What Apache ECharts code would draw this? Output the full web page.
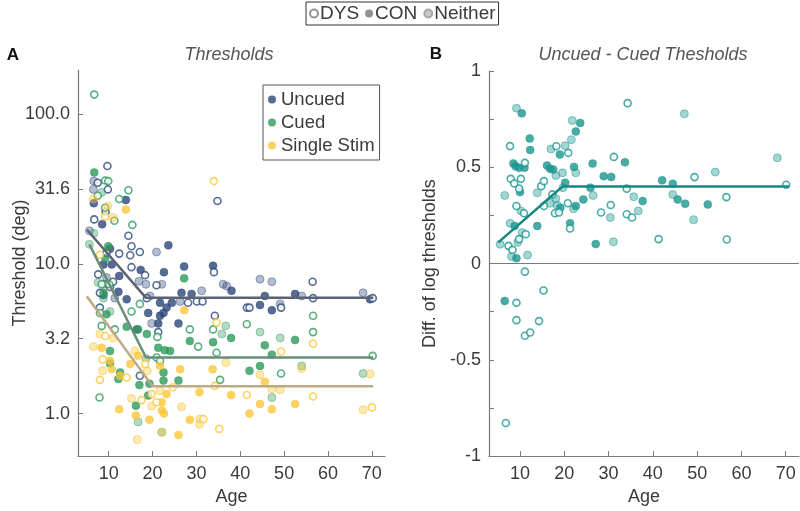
<!DOCTYPE html>
<html><head><meta charset="utf-8">
<script src="https://cdn.jsdelivr.net/npm/echarts@6/dist/echarts.min.js"></script>
<style>html,body{margin:0;padding:0;background:#fff}#c{width:800px;height:511px}</style>
</head><body><div id="c"></div>
<script>
// ---------- tick values ----------
const ageTicks = [10, 20, 30, 40, 50, 60, 70];
const thrTicks = [1, 3.1623, 10, 31.623, 100];
const diffTicks = [-1, -0.75, -0.5, -0.25, 0, 0.25, 0.5, 0.75, 1];
const diffLabels = [-1, -0.5, 0, 0.5, 1];

// ---------- Panel A: thresholds (deg) vs age ----------
const uncuedDYS = [[9.7,45],[7.5,34.8],[9.8,31.4],[6.7,19.8],[9.3,22.3],[14.5,15.4],[15.2,13.1],[12.4,11.7],[14.9,11.4],[17.1,12],[34.8,26.3],[9.5,11.8],[15.2,9.5],[18.3,8.4],[7.6,8.5],[34,8.8],[20.9,7.2],[10.3,7],[18.7,5.9],[28.1,5.5],[30.1,5.6],[31.4,5.6],[21.3,3.5],[34.2,4.5],[8,5.1],[17.1,1.79],[56.5,7.6],[56.6,5.9],[41.5,5.1],[42.1,5.1],[49.3,5.1],[70.2,5.9],[8,6.4],[11,7.6]];
const uncuedCON = [[6.6,25.4],[13.9,26.7],[8.5,18.4],[10.3,12.6],[23.6,13.3],[8.8,9.9],[10.7,9.9],[17.3,9.1],[12.4,8.3],[27.2,9.6],[33.8,9.7],[22.6,8.8],[12.2,6.5],[26.6,6.4],[28.9,6.3],[14.1,5.8],[24.4,5.5],[21.7,5.5],[23.2,5.1],[22.5,4.7],[21.7,4.5],[19,4.7],[21.3,4.0],[25.9,4.0],[16.4,3.65],[8.8,6.2],[38,6.6],[45.6,6.1],[52.5,6.3],[69.6,5.8],[44.5,5.3],[47.2,4.9]];
const uncuedNeither = [[6.6,35.7],[6.5,31.4],[5.6,16.6],[20.9,12],[9.5,8.1],[16.9,7.65],[18.5,7.3],[22.1,7.3],[8.8,7.3],[31.2,6.6],[19.4,6.1],[26.3,5.6],[19.8,4.0],[11.4,5.9],[36.1,7.3],[36.9,7.1],[44.5,7.9],[47.2,7.6],[54,6.1],[68,6.4],[49.1,5.4]];

const cuedDYS = [[6.7,135],[9.2,36],[9.9,35.7],[7.5,28.5],[14.5,31],[12.4,27.1],[9.2,23.7],[11.3,19.4],[15.4,18.2],[8.4,7.3],[10.1,7.3],[8,4.7],[15.2,4.8],[17.1,5.4],[11.4,3.65],[8.4,3.85],[21.1,3.25],[28.5,3.65],[30.4,2.8],[33.8,3.65],[34.6,2.55],[20.9,2.37],[21.7,2.25],[7.9,1.28],[41.5,3.95],[56.6,4.5],[56.6,3.5],[49.3,1.85],[35.4,1.68],[70.2,2.43]];
const cuedCON = [[6.7,40.7],[9.9,13.1],[9.2,10.9],[27.2,8],[8.8,6.4],[9.5,4.6],[16.7,3.65],[14.1,3.8],[18.7,3.4],[28.5,3.05],[33.8,3.0],[21.3,2.75],[22.8,2.65],[24,2.62],[10.3,2.62],[10.3,2.16],[12.6,1.88],[12.2,1.7],[22.5,1.88],[22.5,1.66],[25.9,1.66],[17,1.55],[19.3,1.58],[19,1.32],[16.2,1.13],[37.9,3.2],[45.6,2.86],[52.5,3.1],[47.2,2.47],[42.1,1.93],[44.5,2.08]];
const cuedNeither = [[8.4,30],[6.6,16],[5.6,13.5],[7.6,7.5],[8.8,5.9],[10.3,4.8],[35.8,3.4],[18.5,2.33],[22.1,0.75],[16.7,0.88],[36.7,3.85],[44.5,3.5],[49.1,3.2],[54,2.08],[68,1.85],[47.2,1.28]];

const singleDYS = [[34,35.7],[9.2,20.7],[8,11.5],[34.6,4.05],[9.2,3.3],[8.6,2.3],[8,1.68],[14.1,1.74],[18.3,2.14],[24.6,1.5],[34.2,1.53],[19.8,1.35],[17.5,1.23],[20.9,1.19],[31.6,0.92],[35.2,0.79],[49.3,2.6],[56.6,2.93],[41.5,1.33],[56.6,1.3],[70,1.1]];
const singleCON = [[13.9,23.1],[8.4,2.75],[10.3,2.25],[10.7,1.98],[12.6,1.79],[14.9,2.14],[16.7,2.43],[21.7,2.08],[26.3,1.98],[33.7,1.98],[30.7,1.39],[23.2,1.35],[22.1,1.19],[22.1,1.05],[22.6,1.0],[12.4,1.07],[16.2,0.97],[19.3,0.91],[28.5,0.91],[25.9,0.72],[27.2,4.9],[45.6,1.63],[37.9,1.33],[44.5,1.16],[47.2,1.07],[52.5,1.16],[42.1,1.0]];
const singleNeither = [[6.5,27.1],[9.8,24.3],[11,20.4],[6.5,2.8],[8,3.4],[11,3.2],[8.6,1.93],[16,2.62],[18.8,1.93],[21.7,1.42],[15.2,1.26],[19.8,1.12],[26.6,1.11],[30.8,0.92],[30.7,0.85],[16.5,0.67],[22.1,0.75],[36.7,2.19],[44.5,1.82],[54,2.0],[69.6,1.84],[47.2,1.46],[49.1,1.44],[68,1.06]];

// piecewise fits (age, threshold)
const uncuedFit = [[5.05,16.9],[18.5,5.93],[70.3,5.93]];
const cuedFit = [[5.6,13.5],[18.5,2.37],[70.3,2.37]];
const singleFit = [[5.0,6.08],[20.0,1.52],[70.3,1.52]];

// ---------- Panel B: uncued - cued log thresholds ----------
const diffDYS = [[7.75,0.61],[11.1,0.523],[7.9,0.44],[8.7,0.416],[10.2,0.44],[9.8,0.389],[9.2,0.299],[10.9,0.261],[11.3,0.152],[9.8,0.127],[7.4,0.092],[8.3,0.071],[14.8,0.402],[15.4,0.428],[18.2,0.609],[20.9,0.575],[17.3,0.359],[15.4,0.299],[17.9,0.261],[18.8,0.265],[20.8,0.313],[21.3,0.182],[28.3,0.265],[30.5,0.304],[31.2,0.554],[34.3,0.833],[34.1,0.389],[34.1,0.256],[35.3,0.239],[49.4,0.449],[56.6,0.345],[41.3,0.127],[56.7,0.125],[70.1,0.409],[11.1,-0.042],[15.3,-0.14],[9.2,-0.204],[9.2,-0.294],[14.3,-0.299],[11.1,-0.375],[12.3,-0.358],[6.8,-0.828]];
const diffCON = [[10.4,0.78],[12.2,0.65],[12.3,0.59],[8.5,0.52],[9.0,0.505],[9.8,0.497],[11,0.497],[10,0.371],[8.8,0.195],[9.2,0.028],[13.9,0.195],[16.1,0.509],[16.8,0.492],[17.5,0.488],[19,0.566],[23.6,0.73],[22.6,0.686],[22.2,0.502],[20.2,0.42],[19.1,0.29],[22.6,0.299],[24.3,0.333],[21.3,0.209],[26.4,0.519],[25.9,0.394],[27.1,0.101],[28.9,0.454],[30.6,0.45],[33.7,0.526],[37.7,0.325],[42.1,0.432],[44.5,0.414],[45.6,0.333],[47.3,0.311],[52.4,0.307],[6.55,-0.194]];
const diffNeither = [[9.2,0.807],[6.55,0.354],[10.2,0.273],[7.75,0.209],[10.5,0.161],[5.5,0.1],[8.1,0.037],[11.7,0.044],[9.5,0.11],[13.9,0.368],[17,0.595],[20.2,0.612],[18.1,0.457],[19.6,0.471],[21.8,0.743],[21.6,0.643],[22.6,0.471],[19.7,0.394],[18.1,0.337],[16.8,0.313],[18.4,0.302],[22.1,0.285],[26.5,0.354],[30.4,0.239],[31.1,0.113],[35.7,0.347],[36.7,0.273],[47.1,0.778],[54.1,0.475],[44.5,0.359],[49.2,0.228],[68.1,0.549]];
const diffFit = [[5.1,0.11],[19.6,0.40],[70.8,0.40]];

// ---------- styling ----------
const FONT = '"Liberation Sans", Arial, Helvetica, sans-serif';
const TXT = '#3a3a3a';
const AX = '#7a7a7a';
const C = {
  blue:  {base:'#2c477a', lf:'rgba(44,71,122,0.45)', lb:'rgba(44,71,122,0.55)'},
  green: {base:'#2e9a5b', lf:'rgba(46,154,91,0.45)', lb:'rgba(46,154,91,0.55)'},
  yellow:{base:'#fdc73a', lf:'rgba(253,199,58,0.5)', lb:'rgba(240,185,40,0.6)'},
  teal:  {base:'#1a968f', lf:'rgba(26,150,143,0.5)', lb:'rgba(26,150,143,0.6)'}
};
function sc(data, col, kind, gi) {
  let st;
  if (kind === 'open') st = {color:'#fff', borderColor:col.base, borderWidth:1.6};
  else if (kind === 'filled') st = {color:col.base, borderColor:col.base, borderWidth:0.5};
  else st = {color:col.lf, borderColor:col.lb, borderWidth:1};
  return {type:'scatter', xAxisIndex:gi, yAxisIndex:gi, data:data, symbol:'circle',
    symbolSize: kind === 'open' ? 7 : 8, itemStyle:st, z:2, silent:true};
}
function ln(data, color, gi, extra) {
  return Object.assign({type:'line', xAxisIndex:gi, yAxisIndex:gi, data:data, showSymbol:false,
    symbol:'none', lineStyle:{color:color, width:2.5}, z:5, silent:true}, extra||{});
}
function dummy(name, st) {
  return {type:'scatter', name:name, xAxisIndex:0, yAxisIndex:0, data:[], itemStyle:st};
}

const series = [
  sc(uncuedCON, C.blue, 'filled', 0), sc(uncuedNeither, C.blue, 'neither', 0), sc(uncuedDYS, C.blue, 'open', 0),
  sc(cuedCON, C.green, 'filled', 0), sc(cuedNeither, C.green, 'neither', 0), sc(cuedDYS, C.green, 'open', 0),
  sc(singleCON, C.yellow, 'filled', 0), sc(singleNeither, C.yellow, 'neither', 0), sc(singleDYS, C.yellow, 'open', 0),
  ln(uncuedFit, '#5a6373', 0), ln(cuedFit, '#6a8d77', 0), ln(singleFit, '#bcaa84', 0),
  sc(diffCON, C.teal, 'filled', 1), sc(diffNeither, C.teal, 'neither', 1), sc(diffDYS, C.teal, 'open', 1),
  ln(diffFit, '#178781', 1, {markLine:{silent:true, symbol:'none', label:{show:false},
      lineStyle:{color:AX, width:1.2, type:'solid'}, data:[{yAxis:0}], z:1}}),
  dummy('DYS', {color:'#fff', borderColor:'#777', borderWidth:1.5}),
  dummy('CON', {color:'#777'}),
  dummy('Neither', {color:'#bdbdbd', borderColor:'#999', borderWidth:1}),
  dummy('Uncued', {color:C.blue.base}),
  dummy('Cued', {color:C.green.base}),
  dummy('Single Stim', {color:C.yellow.base})
];

const axCommon = {
  axisLine:{show:true, onZero:false, lineStyle:{color:AX, width:1.2}},
  splitLine:{show:false},
  nameTextStyle:{fontSize:18, color:TXT, fontFamily:FONT},
  nameLocation:'middle'
};
function xAx(gi) {
  return Object.assign({}, axCommon, {gridIndex:gi, type:'value', min:3, max:73, name:'Age', nameGap:31,
    axisTick:{show:true, inside:true, length:5, customValues:ageTicks, lineStyle:{color:AX}},
    axisLabel:{customValues:ageTicks, fontSize:18, color:TXT, fontFamily:FONT, margin:9}});
}

const option = {
  animation:false,
  backgroundColor:'#fff',
  grid:[{left:78, top:70, width:307, height:388}, {left:489, top:71, width:310, height:388}],
  xAxis:[xAx(0), xAx(1)],
  yAxis:[
    Object.assign({}, axCommon, {gridIndex:0, type:'log', logBase:10, min:0.52, max:197,
      axisTick:{show:true, inside:true, length:5, customValues:thrTicks, lineStyle:{color:AX}},
      axisLabel:{customValues:thrTicks, fontSize:18, color:TXT, fontFamily:FONT, margin:8,
        formatter:v => Number(v).toFixed(1)}}),
    Object.assign({}, axCommon, {gridIndex:1, type:'value', min:-1, max:1,
      name:'Diff. of log thresholds', nameGap:50,
      axisTick:{show:true, inside:true, length:5, customValues:diffTicks, lineStyle:{color:AX}},
      axisLabel:{customValues:diffLabels, fontSize:18, color:TXT, fontFamily:FONT, margin:8,
        formatter:v => String(Math.round(v*10)/10)}})
  ],
  legend:[
    {data:['DYS','CON','Neither'], left:306, top:2, orient:'horizontal', icon:'circle',
     itemWidth:8, itemHeight:8, itemGap:6, padding:[2,3,2,3],
     borderColor:'#333', borderWidth:1, selectedMode:false,
     textStyle:{fontSize:19, color:TXT, fontFamily:FONT, padding:[0,0,0,-3]}},
    {data:['Uncued','Cued','Single Stim'], left:263, top:85, orient:'vertical', icon:'circle',
     itemWidth:8, itemHeight:8, itemGap:4, padding:[5,5,5,5],
     borderColor:'#555', borderWidth:1, selectedMode:false, backgroundColor:'#fff',
     textStyle:{fontSize:18.5, color:TXT, fontFamily:FONT}}
  ],
  graphic:[
    {type:'text', x:13, y:55, style:{text:'A', font:'bold 17px '+FONT, fill:'#111', align:'center', verticalAlign:'middle'}},
    {type:'text', x:436, y:54, style:{text:'B', font:'bold 17px '+FONT, fill:'#111', align:'center', verticalAlign:'middle'}},
    {type:'text', x:229, y:55, style:{text:'Thresholds', font:'italic 18px '+FONT, fill:'#555', align:'center', verticalAlign:'middle'}},
    {type:'text', x:643, y:55, style:{text:'Uncued - Cued Thesholds', font:'italic 18px '+FONT, fill:'#555', align:'center', verticalAlign:'middle'}},
    {type:'text', x:20, y:263, rotation:Math.PI/2, style:{text:'Threshold (deg)', font:'18px '+FONT, fill:TXT, align:'center', verticalAlign:'middle'}}
  ],
  series:series
};
const chart = echarts.init(document.getElementById('c'), null, {renderer:'canvas'});
chart.setOption(option);
</script></body></html>
